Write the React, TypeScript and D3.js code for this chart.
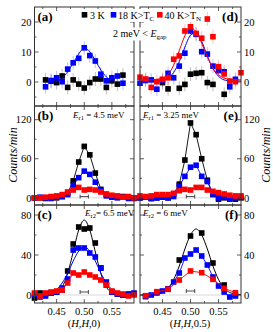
import React from 'react';
import * as d3 from 'd3';

const W = 273;
const H = 332;
const FONT = '"Liberation Serif", "Times New Roman", serif';

const BLACK = '#000000';
const BLUE = '#0000ff';
const RED = '#ff0000';

// scan points along (H,H,L)
const hDomain = [0.41, 0.59];
const hFull = [0.41, 0.42, 0.43, 0.44, 0.45, 0.46, 0.47, 0.48, 0.49, 0.5, 0.51, 0.52, 0.53, 0.54, 0.55, 0.56, 0.57, 0.58, 0.59];
const xTickMajor = [0.45, 0.5, 0.55];
const xTickMinor = [0.425, 0.475, 0.525, 0.575];

// (a) 2 meV, (H,H,0)
const aH = [0.43, 0.44, 0.45, 0.46, 0.47, 0.48, 0.49, 0.5, 0.51, 0.52, 0.53, 0.54, 0.55, 0.56, 0.57];
const a3K = [0.7, 0.3, -0.2, 2.0, -1.8, 0.7, -0.7, -2.0, -0.2, 1.0, 1.0, -1.8, 0.4, -0.7, 2.3];
const a18K = [-1.6, 0.5, 1.4, 0.1, 4.3, 6.4, 7.9, 11.4, 8.8, 7.0, 2.6, 0.4, 1.4, 2.0, -0.4];
const aFitH = [0.45, 0.46, 0.47, 0.48, 0.49, 0.5, 0.51, 0.52, 0.53, 0.54, 0.55];
const aFit18K = [0.3, 1.3, 3.4, 6.3, 9.4, 11.2, 10.1, 7.2, 4.0, 1.7, 0.5];

// (d) 2 meV, (H,H,0.5)
const d3KH = [0.45, 0.46, 0.48, 0.49, 0.5, 0.51, 0.52, 0.53, 0.54, 0.56];
const d3K = [-0.2, -2.3, -2.1, -0.8, 2.6, 2.9, 3.1, -0.2, -0.8, -4.1];
const d18KH = [0.41, 0.42, 0.43, 0.44, 0.45, 0.46, 0.47, 0.48, 0.49, 0.5, 0.51, 0.52, 0.53, 0.54, 0.55, 0.56, 0.57, 0.58];
const d18K = [-0.4, 0.5, 0.7, -2.4, 0.5, 2.9, 1.4, 5.3, 9.6, 17.0, 15.9, 10.1, 9.3, 5.3, 3.8, 3.4, -1.6, 0.9];
const d40K = [1.6, 1.0, -1.8, 0.1, 0.9, 1.4, 7.6, 8.7, 17.0, 18.4, 16.2, 14.6, 21.0, 15.1, 5.1, 2.7, 0.3, 0.1, 3.1];
const dFitH = [0.41, 0.43, 0.45, 0.46, 0.47, 0.48, 0.49, 0.5, 0.51, 0.52, 0.53, 0.54, 0.55, 0.56, 0.57, 0.59];
const dFit18K = [0.3, 0.3, 0.5, 1.3, 3.2, 6.8, 11.6, 15.6, 16.4, 13.5, 8.7, 4.5, 1.9, 0.7, 0.4, 0.3];
const dFit40K = [0.6, 0.7, 1.3, 2.5, 5.6, 10.5, 15.4, 17.9, 16.8, 12.9, 8.4, 4.6, 2.4, 1.3, 0.9, 0.7];
const errTop = 2.3;

// (b) Er1 = 4.5 meV
const b3K = [0, 0, -1, 1, 0, 2, 7, 26, 55, 79, 66, 38, 13, 5, 2, 1, 2, 1, -1];
const b18K = [0, 1, 0, -1, 1, 2, 5, 19, 31, 41, 36, 24, 11, 3, 1, 0, 1, -1, 0];
const b40K = [0, 0, 1, 2, 3, 5, 9, 12, 16, 12, 13, 12, 9, 6, 4, 3, 1, 2, 0];

// (e) Er1 = 3.25 meV
const e3K = [0, 1, -1, 0, 1, 0, 6, 21, 58, 115, 97, 60, 27, 5, -2, 0, -1, -2, 0];
const e18K = [0, 1, -1, 0, 1, 0, 2, 18, 33, 47, 50, 33, 25, 6, 0, 1, -2, 0, 1];
const e40K = [3, 2, 3, 5, 5, 5, 7, 11, 13, 12, 16, 16, 12, 10, 8, 6, 4, 3, 3];

// (c) Er2 = 6.5 meV
const c3K = [-3, 2, 1, 2, 3, 5, 24, 51, 68, 66, 67, 52, 27, 10, 3, 1, 0, 1, 1];
const c18K = [0, -2, -1, 2, 3, 7, 16, 45, 47, 47, 42, 38, 27, 13, 3, 1, 0, 0, 2];
const c40K = [2, -1, 2, 3, 4, 5, 12, 22, 20, 23, 20, 18, 15, 10, 4, 2, 1, -1, 0];
const cFitH = [0.41, 0.43, 0.44, 0.45, 0.46, 0.47, 0.48, 0.49, 0.5, 0.51, 0.52, 0.53, 0.54, 0.55, 0.56, 0.57, 0.59];
const cFit3K = [0, 0.1, 0.5, 2.3, 8, 21.5, 43, 65, 75, 65, 43, 21.5, 8, 2.3, 0.5, 0.1, 0];
const cFit18K = [0.2, 0.7, 2.1, 5.5, 12, 22, 34, 44, 48, 44, 34, 22, 12, 5.5, 2.1, 0.7, 0.2];

// (f) Er2 = 6 meV
const fEvenH = [0.42, 0.44, 0.46, 0.48, 0.5, 0.52, 0.54, 0.56, 0.58];
const f3K = [-1, 3, 6, 35, 59, 62, 32, 10, 0];
const f40K = [-0.7, 3.3, 5.7, 15, 24, 22.3, 15.7, 6.7, 2.3];
const f18KH = [0.42, 0.43, 0.44, 0.45, 0.46, 0.47, 0.48, 0.49, 0.5, 0.51, 0.52, 0.53, 0.54, 0.55, 0.56, 0.57, 0.58];
const f18K = [-1.7, 0, 2, 4, 6, 13, 22, 37, 41, 45, 39, 30, 18, 9, 3, -2, -1];
const fFitH = [0.41, 0.43, 0.44, 0.45, 0.46, 0.47, 0.48, 0.49, 0.5, 0.51, 0.52, 0.53, 0.54, 0.55, 0.56, 0.57, 0.58, 0.59];
const fFit3K = [0, 0.2, 0.8, 2.5, 6.8, 15.5, 29, 46, 60, 66, 60, 46, 29, 15.5, 6.8, 2.5, 0.8, 0.2];

// instrument resolution bar
const resCenter = 0.5;
const resHalf = 0.0075;

// layout
const cols = [{ x0: 34.5, x1: 134 }, { x0: 140, x1: 241 }];
const rows = [{ y0: 7, y1: 106 }, { y0: 106, y1: 205 }, { y0: 205, y1: 303 }];

type Series = { h: number[]; v: number[]; color: string; poly?: boolean };
type Fit = { h: number[]; v: number[]; color: string };
type PanelDef = {
  label: string;
  col: number;
  row: number;
  yDomain: [number, number];
  yMajor: number[];
  yMinor: number[];
  series: Series[];
  fits: Fit[];
  err?: number;
  zero?: boolean;
  res?: number;
};

const panels: PanelDef[] = [
  {
    label: '(a)', col: 0, row: 0, yDomain: [-8, 25], yMajor: [0, 10, 20], yMinor: [-5, 5, 15],
    series: [{ h: aH, v: a3K, color: BLACK }, { h: aH, v: a18K, color: BLUE }],
    fits: [{ h: aFitH, v: aFit18K, color: BLUE }], err: errTop,
  },
  {
    label: '(d)', col: 1, row: 0, yDomain: [-8, 25], yMajor: [0, 10, 20], yMinor: [-5, 5, 15],
    series: [{ h: d3KH, v: d3K, color: BLACK }, { h: d18KH, v: d18K, color: BLUE }, { h: hFull, v: d40K, color: RED }],
    fits: [{ h: dFitH, v: dFit18K, color: BLUE }, { h: dFitH, v: dFit40K, color: RED }], err: errTop,
  },
  {
    label: '(b)', col: 0, row: 1, yDomain: [-11, 141], yMajor: [0, 60, 120], yMinor: [30, 90],
    series: [
      { h: hFull, v: b3K, color: BLACK, poly: true },
      { h: hFull, v: b18K, color: BLUE, poly: true },
      { h: hFull, v: b40K, color: RED, poly: true },
    ],
    fits: [], zero: true, res: 2,
  },
  {
    label: '(e)', col: 1, row: 1, yDomain: [-11, 141], yMajor: [0, 60, 120], yMinor: [30, 90],
    series: [
      { h: hFull, v: e3K, color: BLACK, poly: true },
      { h: hFull, v: e18K, color: BLUE, poly: true },
      { h: hFull, v: e40K, color: RED, poly: true },
    ],
    fits: [], zero: true, res: 2,
  },
  {
    label: '(c)', col: 0, row: 2, yDomain: [-8, 90], yMajor: [0, 40, 80], yMinor: [20, 60],
    series: [
      { h: hFull, v: c3K, color: BLACK },
      { h: hFull, v: c18K, color: BLUE },
      { h: hFull, v: c40K, color: RED, poly: true },
    ],
    fits: [{ h: cFitH, v: cFit3K, color: BLACK }, { h: cFitH, v: cFit18K, color: BLUE }], zero: true, res: 3,
  },
  {
    label: '(f)', col: 1, row: 2, yDomain: [-8, 90], yMajor: [0, 40, 80], yMinor: [20, 60],
    series: [
      { h: fEvenH, v: f3K, color: BLACK },
      { h: f18KH, v: f18K, color: BLUE, poly: true },
      { h: fEvenH, v: f40K, color: RED, poly: true },
    ],
    fits: [{ h: fFitH, v: fFit3K, color: BLACK }], zero: true, res: 4,
  },
];

const MS = 5.6;

function Panel({ p }: { p: PanelDef }) {
  const c = cols[p.col];
  const r = rows[p.row];
  const x = d3.scaleLinear().domain(hDomain).range([c.x0, c.x1]);
  const y = d3.scaleLinear().domain(p.yDomain).range([r.y1, r.y0]);
  const poly = d3.line<[number, number]>().x(d => x(d[0])).y(d => y(d[1]));
  const smooth = d3.line<[number, number]>().x(d => x(d[0])).y(d => y(d[1])).curve(d3.curveMonotoneX);
  const left = p.col === 0;
  const tc = '#333';

  const layers: React.ReactNode[] = [];
  p.series.forEach((s, si) => {
    const fit = p.fits.find(f => f.color === s.color);
    if (fit) {
      layers.push(<path key={'f' + si} d={smooth(d3.zip(fit.h, fit.v) as [number, number][]) || ''}
        fill="none" stroke={s.color} strokeWidth={1} />);
    }
    if (s.poly) {
      layers.push(<path key={'l' + si} d={poly(d3.zip(s.h, s.v) as [number, number][]) || ''}
        fill="none" stroke={s.color} strokeWidth={0.9} />);
    }
    if (p.err) {
      s.h.forEach((h, i) => layers.push(
        <line key={'e' + si + '-' + i} x1={x(h)} x2={x(h)} y1={y(s.v[i] - p.err!)} y2={y(s.v[i] + p.err!)}
          stroke={s.color} strokeOpacity={0.25} strokeWidth={1} />
      ));
    }
    s.h.forEach((h, i) => layers.push(
      <rect key={'m' + si + '-' + i} x={x(h) - MS / 2} y={y(s.v[i]) - MS / 2} width={MS} height={MS} fill={s.color} />
    ));
  });

  return (
    <g>
      {p.zero && <line x1={c.x0} x2={c.x1} y1={y(0)} y2={y(0)} stroke="#cfcfcf" strokeWidth={0.8} />}
      {p.res !== undefined && (
        <g stroke="#222" strokeWidth={0.8}>
          <line x1={x(resCenter - resHalf)} x2={x(resCenter + resHalf)} y1={y(p.res)} y2={y(p.res)} />
          <line x1={x(resCenter - resHalf)} x2={x(resCenter - resHalf)} y1={y(p.res) - 2} y2={y(p.res) + 2} />
          <line x1={x(resCenter + resHalf)} x2={x(resCenter + resHalf)} y1={y(p.res) - 2} y2={y(p.res) + 2} />
        </g>
      )}
      {layers}
      <rect x={c.x0} y={r.y0} width={c.x1 - c.x0} height={r.y1 - r.y0} fill="none" stroke={tc} strokeWidth={1} />
      {xTickMajor.map(t => (
        <g key={'xM' + t} stroke={tc} strokeWidth={0.8}>
          <line x1={x(t)} x2={x(t)} y1={r.y1} y2={r.y1 - 4} />
          <line x1={x(t)} x2={x(t)} y1={r.y0} y2={r.y0 + 4} />
        </g>
      ))}
      {xTickMinor.map(t => (
        <g key={'xm' + t} stroke={tc} strokeWidth={0.8}>
          <line x1={x(t)} x2={x(t)} y1={r.y1} y2={r.y1 - 2} />
          <line x1={x(t)} x2={x(t)} y1={r.y0} y2={r.y0 + 2} />
        </g>
      ))}
      {p.yMajor.map(t => (
        <g key={'yM' + t} stroke={tc} strokeWidth={0.8}>
          <line x1={c.x0} x2={c.x0 + 4} y1={y(t)} y2={y(t)} />
          <line x1={c.x1} x2={c.x1 - 4} y1={y(t)} y2={y(t)} />
        </g>
      ))}
      {p.yMinor.map(t => (
        <g key={'ym' + t} stroke={tc} strokeWidth={0.8}>
          <line x1={c.x0} x2={c.x0 + 2} y1={y(t)} y2={y(t)} />
          <line x1={c.x1} x2={c.x1 - 2} y1={y(t)} y2={y(t)} />
        </g>
      ))}
      {p.yMajor.map(t => (
        <text key={'yl' + t} x={left ? c.x0 - 3 : c.x1 + 3} y={y(t)} dy="0.35em"
          textAnchor={left ? 'end' : 'start'} fontSize={10.5}>{t}</text>
      ))}
      {p.row === 2 && xTickMajor.map(t => (
        <text key={'xl' + t} x={x(t)} y={r.y1 + 12} textAnchor="middle" fontSize={10.5}>{t.toFixed(2)}</text>
      ))}
      <text x={left ? c.x0 + 3 : c.x1 - 3} y={r.y0 + 14} textAnchor={left ? 'start' : 'end'}
        fontSize={13} fontWeight="bold">{p.label}</text>
    </g>
  );
}

function Er({ x, y, sub, rest }: { x: number; y: number; sub: string; rest: string }) {
  return (
    <text x={x} y={y} fontSize={9}>
      <tspan fontStyle="italic">E</tspan>
      <tspan fontSize={6.5} dy={2}>{sub}</tspan>
      <tspan dy={-2}>{rest}</tspan>
    </text>
  );
}

export default function App() {
  return (
    <svg width={W} height={H} style={{ position: 'fixed', left: 0, top: 0, background: '#fff' }}
      fontFamily={FONT}>
      <rect width={W} height={H} fill="#fff" />
      {panels.map(p => <Panel key={p.label} p={p} />)}

      {/* legend and gap label sit on white boxes over the borders */}
      <rect x={80} y={9} width={122} height={13} fill="#fff" />
      <rect x={111} y={27.5} width={60} height={13} fill="#fff" />
      <rect x={81.7} y={12} width={5.6} height={5.6} fill={BLACK} />
      <text x={90} y={18.5} fontSize={10}>3 K</text>
      <rect x={110.7} y={12} width={5.6} height={5.6} fill={BLUE} />
      <text x={118} y={18.5} fontSize={10}>18 K{'>'}T<tspan fontSize={7} dy={2}>C</tspan></text>
      <rect x={157} y={12} width={5.6} height={5.6} fill={RED} />
      <text x={164.5} y={18.5} fontSize={10}>40 K{'>'}T<tspan fontSize={7} dy={2}>N</tspan></text>
      <text x={113} y={37} fontSize={10}>2 meV {'<'} <tspan fontStyle="italic">E</tspan><tspan fontSize={7} dy={2}>gap</tspan></text>

      <Er x={73} y={118} sub="r1" rest=" = 4.5 meV" />
      <Er x={143} y={118} sub="r1" rest=" = 3.25 meV" />
      <Er x={85} y={216} sub="r2" rest="= 6.5 meV" />
      <Er x={143} y={216} sub="r2" rest=" = 6 meV" />

      <text transform="translate(17,155) rotate(-90)" textAnchor="middle" fontSize={12} fontStyle="italic">Counts/min</text>
      <text transform="translate(270,155) rotate(-90)" textAnchor="middle" fontSize={12} fontStyle="italic">Counts/min</text>

      <text x={84} y={327} textAnchor="middle" fontSize={10.5}>
        (<tspan fontStyle="italic">H</tspan>,<tspan fontStyle="italic">H</tspan>,0)
      </text>
      <text x={190} y={327} textAnchor="middle" fontSize={10.5}>
        (<tspan fontStyle="italic">H</tspan>,<tspan fontStyle="italic">H</tspan>,0.5)
      </text>
    </svg>
  );
}
